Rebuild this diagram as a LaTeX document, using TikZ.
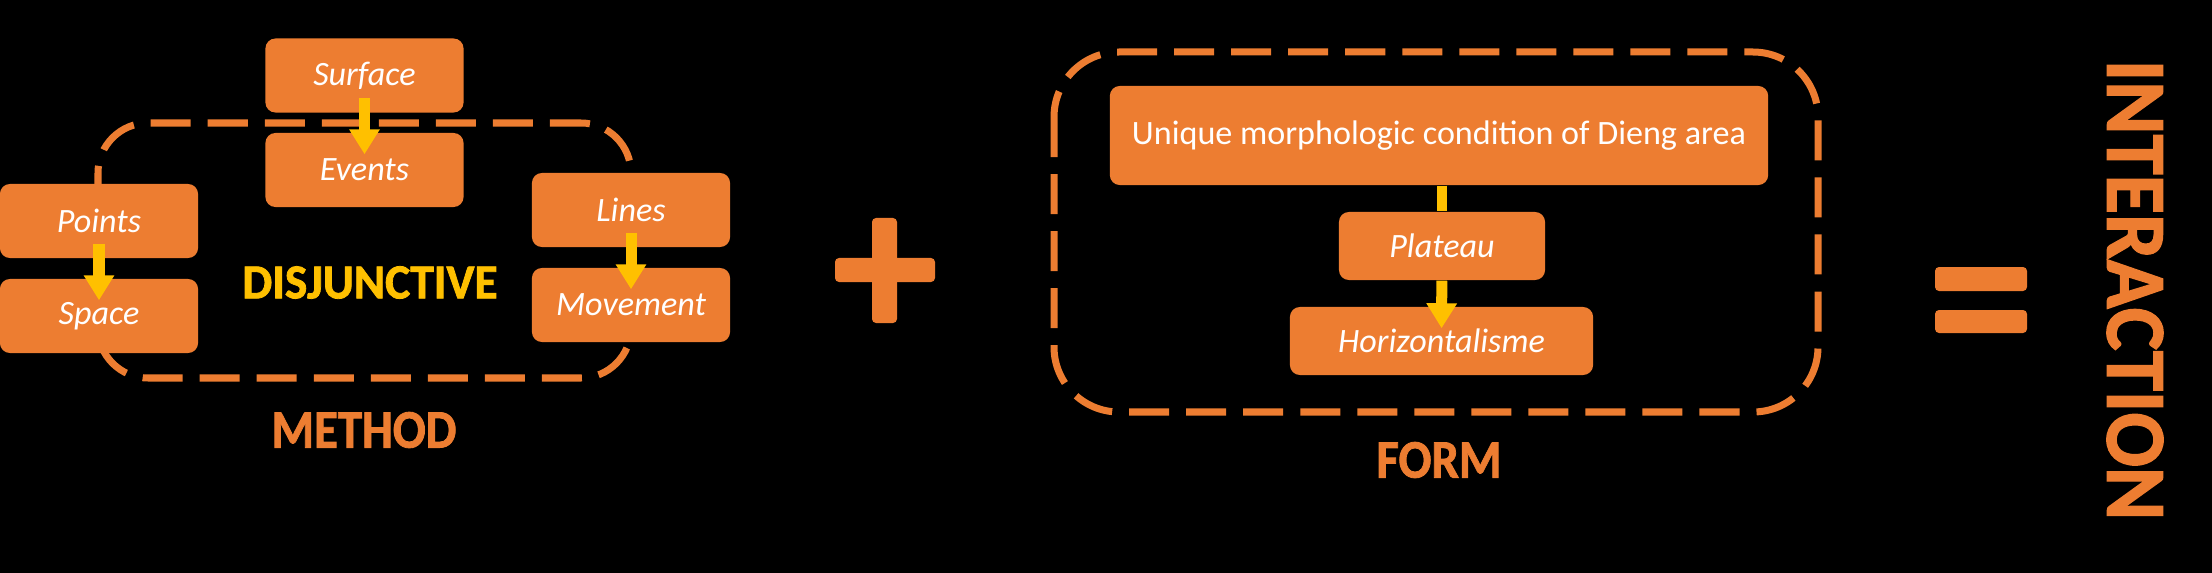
\documentclass[tikz,border=0pt]{standalone}
\usepackage{fontspec}
\setmainfont{Carlito}
\newfontfamily\titlefont{Carlito Bold}[FakeBold=1.6]
\usetikzlibrary{arrows.meta,positioning}
\definecolor{boxorange}{HTML}{ED7D31}
\definecolor{arrowyellow}{HTML}{FFC000}

\begin{document}
\begin{tikzpicture}[x=0.01cm, y=-0.01cm,
    box/.style={fill=boxorange, rounded corners=0.1cm, text=white, inner sep=0pt,
        minimum width=1.98cm, minimum height=0.74cm, font=\fontsize{9.7}{11}\selectfont\itshape},
    flow/.style={draw=arrowyellow, line width=0.11cm, -{Triangle[width=0.29cm,length=0.25cm]},
        shorten <=-0.15cm, shorten >=-0.22cm},
    dashbox/.style={draw=boxorange, line width=0.07cm, dash pattern=on 0.4cm off 0.17cm},
    title/.style={text=boxorange, font=\fontsize{15.4}{17}\selectfont\titlefont}]
    \useasboundingbox (0,0) rectangle (2212,573);
    \fill[black] (0,0) rectangle (2212,573);
    % method group
    \draw[dashbox, rounded corners=0.5cm] (98,123) rectangle (631,378);
    \node[box] (surface) at (364.5,75.5) {Surface};
    \node[box] (events) at (364.5,170) {Events};
    \node[box] (points) at (99,221) {Points};
    \node[box] (space) at (99,316) {Space};
    \node[box] (lines) at (631,210) {Lines};
    \node[box] (movement) at (631,305) {Movement};
    \draw[flow] (surface) -- (events);
    \draw[flow] (points) -- (space);
    \draw[flow] (lines) -- (movement);
    \node[text=arrowyellow, font=\fontsize{13.9}{16}\selectfont\titlefont] (disj) at (370,282.5) {\scalebox{0.97}[1]{DISJUNCTIVE}};
    \node[title] (method) at (364,430) {\scalebox{0.9}[1]{METHOD}};
    % plus
    \fill[boxorange, rounded corners=0.04cm] (835,258) rectangle (935,282);
    \fill[boxorange, rounded corners=0.04cm] (872,218) rectangle (897,323);
    % form group
    \draw[dashbox, rounded corners=0.65cm] (1054,52) rectangle (1818,412);
    \node[box, minimum width=6.58cm, minimum height=0.99cm, font=\fontsize{9.7}{11}\selectfont] (unique) at (1439,135.5) {Unique morphologic condition of Dieng area};
    \node[box, minimum width=2.06cm, minimum height=0.68cm] (plateau) at (1442,246) {Plateau};
    \node[box, minimum width=3.03cm, minimum height=0.68cm] (horiz) at (1441.5,341) {Horizontalisme};
    \draw[arrowyellow, line width=0.1cm] (plateau.north |- unique.south) -- (plateau.north);
    \draw[flow, shorten <=0pt] (plateau) -- (horiz);
    \node[title] (form) at (1439,460) {\scalebox{0.9}[1]{FORM}};
    % equals
    \fill[boxorange, rounded corners=0.04cm] (1935,267) rectangle (2027,291);
    \fill[boxorange, rounded corners=0.04cm] (1935,310) rectangle (2027,333);
    \node[title, rotate=-90, font=\fontsize{24.2}{26}\selectfont\titlefont] (interaction) at (2135,290) {\scalebox{0.95}[1]{INTERACTION}};
\end{tikzpicture}
\end{document}
